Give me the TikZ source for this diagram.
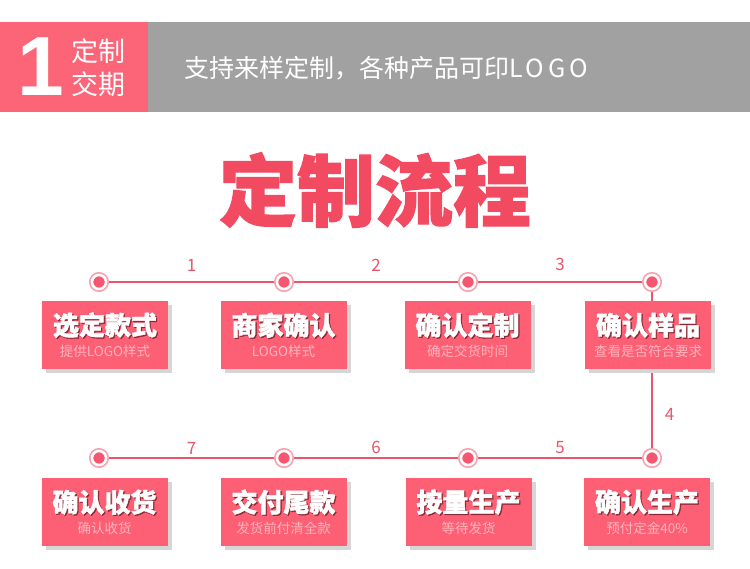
\documentclass[tikz,border=0pt]{standalone}
\usepackage{fontspec}
\setmainfont{Noto Sans CJK SC}
\newfontfamily\cjk{Noto Sans CJK SC}
\newfontfamily\heavycjk{Noto Sans CJK SC}[BoldFeatures={FakeBold=1.5}]
\newfontfamily\numfont{Liberation Sans}
\usetikzlibrary{shadows, backgrounds}
\definecolor{headpink}{HTML}{FC6478}
\definecolor{headgray}{HTML}{A1A1A1}
\definecolor{titlered}{HTML}{F24A61}
\definecolor{boxfill}{HTML}{FD6074}
\definecolor{subpink}{HTML}{FFB3BD}
\definecolor{textshade}{HTML}{8A2A36}
\definecolor{shadegray}{HTML}{D6D6D6}
\definecolor{linkred}{HTML}{E9556B}
\definecolor{dotred}{HTML}{F65770}
\definecolor{ringpink}{HTML}{F7A3AE}
\newcommand{\shadowtitle}[1]{\makebox[0pt][l]{\raisebox{-1.2pt}{\hspace{1.2pt}\textcolor{textshade}{#1}}}#1}
\tikzset{
  stepbox/.style={rectangle, fill=boxfill, minimum width=126pt, minimum height=68pt, align=center, text=white, inner sep=0pt,
    drop shadow={shadow xshift=4pt, shadow yshift=-4pt, fill=shadegray, opacity=1}},
  marker/.style={circle, minimum size=14pt, inner sep=0pt, fill=dotred, draw=white, line width=2.5pt,
    preaction={draw=ringpink, line width=6pt}},
  link/.style={draw=linkred, line width=1.6pt},
  numlabel/.style={font=\cjk\fontsize{17}{20}\selectfont, text=linkred, inner sep=0pt},
  headtext/.style={text=white, inner sep=0pt, align=left}
}
\newcommand{\boxtext}[2]{{\heavycjk\fontsize{26}{28}\selectfont\bfseries\shadowtitle{#1}}\\[5pt]{\fontsize{13.5}{15}\selectfont\textcolor{subpink}{#2}}}

\begin{document}
\begin{tikzpicture}[x=1pt, y=-1pt]
\useasboundingbox (0,0) rectangle (750,568);

% header bar
\fill[headpink] (0,22) rectangle (148,112);
\fill[headgray] (148,22) rectangle (750,112);
\node[headtext, font=\numfont\bfseries\fontsize{84}{84}\selectfont] (headnum) at (41,67) {1};
\node[headtext, font=\fontsize{27}{33}\selectfont, anchor=west] (headterm) at (71,68) {定制\\交期};
\node[headtext, font=\fontsize{25}{28}\selectfont, anchor=west] (headline) at (184,68) {支持来样定制，各种产品可印{\addfontfeature{LetterSpace=15}LOGO}};

% title
\node[text=titlered, font=\heavycjk\bfseries\fontsize{78}{84}\selectfont, inner sep=0pt] (title) at (375,190) {定制流程};

% markers
\node[marker] (m1) at (99,282) {};
\node[marker] (m2) at (284,282) {};
\node[marker] (m3) at (468,282) {};
\node[marker] (m4) at (652,282) {};
\node[marker] (m5) at (652,458) {};
\node[marker] (m6) at (468,458) {};
\node[marker] (m7) at (284,458) {};
\node[marker] (m8) at (99,458) {};

% boxes
\node[stepbox] (s1) at (105,335) {\boxtext{选定款式}{提供LOGO样式}};
\node[stepbox] (s2) at (283.5,335) {\boxtext{商家确认}{LOGO样式}};
\node[stepbox] (s3) at (467.5,335) {\boxtext{确认定制}{确定交货时间}};
\node[stepbox] (s4) at (648,335) {\boxtext{确认样品}{查看是否符合要求}};
\node[stepbox] (s5) at (647,512) {\boxtext{确认生产}{预付定金40\%}};
\node[stepbox] (s6) at (468.5,512) {\boxtext{按量生产}{等待发货}};
\node[stepbox] (s7) at (283.5,512) {\boxtext{交付尾款}{发货前付清全款}};
\node[stepbox] (s8) at (104.5,512) {\boxtext{确认收货}{确认收货}};

% links
\begin{pgfonlayer}{background}
\draw[link] (m1) -- node[numlabel, above=10pt] {1} (m2);
\draw[link] (m2) -- node[numlabel, above=10pt] {2} (m3);
\draw[link] (m3) -- node[numlabel, above=10pt] {3} (m4);
\draw[link] (m4) -- node[numlabel, pos=0.78, right=12pt] {4} (m5);
\draw[link] (m5) -- node[numlabel, above=3pt] {5} (m6);
\draw[link] (m6) -- node[numlabel, above=3pt] {6} (m7);
\draw[link] (m7) -- node[numlabel, above=3pt] {7} (m8);
\end{pgfonlayer}

\end{tikzpicture}
\end{document}
